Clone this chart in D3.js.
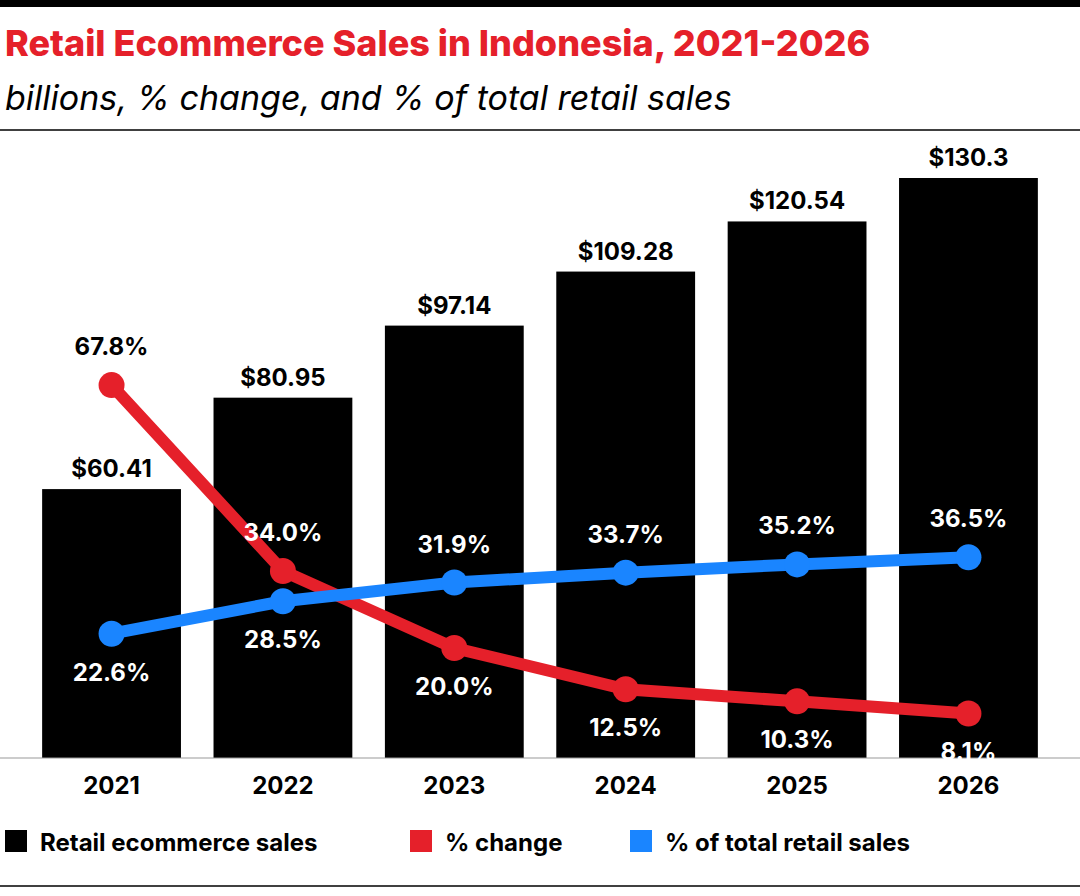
<!DOCTYPE html><html><head><meta charset="utf-8">
<script src="https://cdn.jsdelivr.net/npm/d3@7"></script>
<style>body{margin:0;background:#fff}text{font-family:Inter,Lato,sans-serif}</style></head><body>
<svg id="c" width="1080" height="896"></svg>
<script>
const years=["2021","2022","2023","2024","2025","2026"];
const sales=[60.41,80.95,97.14,109.28,120.54,130.3];
const salesLabels=["$60.41","$80.95","$97.14","$109.28","$120.54","$130.3"];
const pctChange=[67.8,34.0,20.0,12.5,10.3,8.1];
const pctTotal=[22.6,28.5,31.9,33.7,35.2,36.5];
const changePos=["above","above","below","below","below","below"];
const totalPos=["below","below","above","above","above","above"];
const svg=d3.select("#c");
const base=758;
svg.append("rect").attr("x",0).attr("y",0).attr("width",1080).attr("height",7).attr("fill","#000");
svg.append("text").attr("x",5).attr("y",56).attr("fill","#e5202a").attr("font-size",36).attr("font-weight",800).text("Retail Ecommerce Sales in Indonesia, 2021-2026");
svg.append("text").attr("x",5).attr("y",110).attr("font-size",34).attr("font-style","italic").text("billions, % change, and % of total retail sales");
svg.append("line").attr("x1",0).attr("x2",1080).attr("y1",130).attr("y2",130).attr("stroke","#000").attr("stroke-width",1.5);
const x=d3.scaleBand().domain(years).range([25,1055]).paddingInner(0.19).paddingOuter(0.1);
const y=d3.scaleLinear().domain([0,130.3]).range([base,178]);
const yp=d3.scaleLinear().domain([0,100]).range([base,base-550]);
const cx=d=>x(d)+x.bandwidth()/2;
svg.selectAll(".bar").data(years).join("rect").attr("x",d=>x(d)).attr("width",x.bandwidth()).attr("y",(d,i)=>y(sales[i])).attr("height",(d,i)=>base-y(sales[i])).attr("fill","#000");
svg.selectAll(".bl").data(years).join("text").attr("x",cx).attr("y",(d,i)=>y(sales[i])-12).attr("text-anchor","middle").attr("font-size",24).attr("font-weight",700).text((d,i)=>salesLabels[i]);
svg.append("line").attr("x1",0).attr("x2",1080).attr("y1",base).attr("y2",base).attr("stroke","#999");
svg.selectAll(".yl").data(years).join("text").attr("x",cx).attr("y",794).attr("text-anchor","middle").attr("font-size",24).attr("font-weight",700).text(d=>d);
function series(vals,color,pos){
  const line=d3.line().x((v,i)=>cx(years[i])).y(v=>yp(v));
  svg.append("path").datum(vals).attr("d",line).attr("fill","none").attr("stroke",color).attr("stroke-width",12);
  svg.selectAll(null).data(vals).join("circle").attr("cx",(v,i)=>cx(years[i])).attr("cy",v=>yp(v)).attr("r",13).attr("fill",color);
  svg.selectAll(null).data(vals).join("text").attr("x",(v,i)=>cx(years[i])).attr("y",(v,i)=>pos[i]=="above"?yp(v)-30:yp(v)+47)
   .attr("text-anchor","middle").attr("font-size",24).attr("font-weight",700)
   .attr("fill",(v,i)=>{const ty=pos[i]=="above"?yp(v)-30:yp(v)+47;return ty<y(sales[i])?"#000":"#fff";}).text(v=>v.toFixed(1)+"%");
}
series(pctChange,"#e5202a",changePos);
series(pctTotal,"#1a85ff",totalPos);
const leg=[["Retail ecommerce sales","#000",5],["% change","#e5202a",410],["% of total retail sales","#1a85ff",630]];
leg.forEach(([t,c,lx])=>{svg.append("rect").attr("x",lx).attr("y",830).attr("width",22).attr("height",22).attr("fill",c);
 svg.append("text").attr("x",lx+35).attr("y",851).attr("font-size",24).attr("font-weight",700).text(t);});
svg.append("line").attr("x1",0).attr("x2",1080).attr("y1",886).attr("y2",886).attr("stroke","#000").attr("stroke-width",1.5);
</script></body></html>
